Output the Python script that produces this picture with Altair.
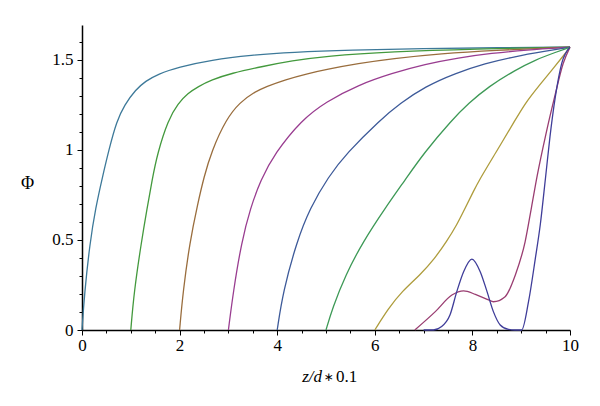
import altair as alt
import pandas as pd

# ---- data ----
c1_x = [0, 0.05, 0.16, 0.28, 0.42, 0.55, 0.71, 0.87, 1.1, 1.3, 1.56, 1.97, 2.65, 3.47, 4.3, 5.5, 7.0, 8.5, 10]
c1_y = [0, 0.2, 0.48, 0.68, 0.85, 1.0, 1.16, 1.25, 1.335, 1.382, 1.422, 1.46, 1.5, 1.527, 1.543, 1.555, 1.563, 1.568, 1.5708]

c2_x = [1, 1.067, 1.218, 1.334, 1.436, 1.546, 1.764, 1.97, 2.17, 2.38, 2.65, 3.06, 3.68, 4.3, 5.0, 6.35, 8.06, 10]
c2_y = [0, 0.213, 0.49, 0.676, 0.833, 0.981, 1.167, 1.259, 1.315, 1.352, 1.389, 1.426, 1.463, 1.495, 1.522, 1.546, 1.561, 1.5708]

c3_x = [2, 2.07, 2.21, 2.37, 2.50, 2.65, 2.96, 3.24, 3.51, 3.78, 4.16, 4.64, 5.0, 5.66, 6.35, 7.37, 8.4, 10]
c3_y = [0, 0.213, 0.49, 0.70, 0.85, 0.99, 1.175, 1.265, 1.318, 1.352, 1.39, 1.425, 1.447, 1.48, 1.507, 1.535, 1.553, 1.5708]

c4_x = [3, 3.10, 3.27, 3.45, 3.66, 3.95, 4.5, 5.0, 5.66, 6.35, 7.03, 7.71, 8.4, 9.08, 10]
c4_y = [0, 0.213, 0.49, 0.676, 0.833, 0.981, 1.167, 1.268, 1.361, 1.426, 1.476, 1.512, 1.537, 1.555, 1.5708]

c5_x = [4, 4.12, 4.40, 4.67, 5.05, 5.42, 6.11, 6.52, 7.03, 7.65, 8.26, 8.87, 9.49, 10]
c5_y = [0, 0.213, 0.49, 0.676, 0.852, 0.981, 1.167, 1.259, 1.352, 1.426, 1.481, 1.519, 1.548, 1.5708]

c6_x = [5, 5.13, 5.40, 5.76, 6.21, 6.62, 7.0, 7.58, 7.92, 8.33, 8.88, 9.29, 9.70, 10]
c6_y = [0, 0.12, 0.306, 0.491, 0.676, 0.833, 0.981, 1.167, 1.259, 1.352, 1.444, 1.5, 1.542, 1.5708]

c7_x = [6, 6.28, 6.55, 6.93, 7.23, 7.47, 7.68, 7.85, 8.02, 8.14, 8.47, 8.88, 9.08, 9.35, 9.63, 9.87, 10]
c7_y = [0, 0.12, 0.213, 0.306, 0.398, 0.491, 0.583, 0.676, 0.769, 0.833, 0.981, 1.167, 1.259, 1.352, 1.444, 1.525, 1.5708]

c8_x = [6.82, 7.24, 7.58, 7.82, 8.06, 8.33, 8.43, 8.67, 8.88, 9.08, 9.21, 9.33, 9.50, 9.69, 9.86, 10]
c8_y = [0, 0.102, 0.194, 0.217, 0.198, 0.167, 0.157, 0.185, 0.306, 0.49, 0.68, 0.86, 1.08, 1.30, 1.48, 1.5708]

c9_x = [7.0, 7.2, 7.37, 7.54, 7.68, 7.82, 7.99, 8.16, 8.30, 8.43, 8.57, 8.74, 8.87, 9.01, 9.15, 9.29, 9.39, 9.50, 9.59, 9.70, 9.83, 10]
c9_y = [0, 0.0, 0.019, 0.083, 0.213, 0.324, 0.394, 0.324, 0.213, 0.102, 0.028, 0.003, 0.0, 0.0, 0.157, 0.398, 0.583, 0.85, 1.074, 1.296, 1.481, 1.5708]

curves = [(c1_x, c1_y), (c2_x, c2_y), (c3_x, c3_y), (c4_x, c4_y), (c5_x, c5_y),
          (c6_x, c6_y), (c7_x, c7_y), (c8_x, c8_y), (c9_x, c9_y)]
curve_names = ["c1", "c2", "c3", "c4", "c5", "c6", "c7", "c8", "c9"]
curve_colors = ["#3D7999", "#43993D", "#996D3D", "#993D90", "#3D5A99",
                "#3D9956", "#AE9C3C", "#993D71", "#3F3D99"]
bumpy = ["c8", "c9"]

x_ticks = [round(0.5 * i, 1) for i in range(21)]
y_ticks = [round(0.1 * i, 1) for i in range(17)]

rows = []
for name, (xs, ys) in zip(curve_names, curves):
    for xv, yv in zip(xs, ys):
        rows.append({"curve": name, "x": xv, "y": yv})
df = pd.DataFrame(rows)

FONT = "Liberation Serif"

x_enc = alt.X("x:Q", scale=alt.Scale(domain=[0, 10], nice=False, zero=False),
              axis=alt.Axis(values=x_ticks, title=None, grid=False,
                            labelFont=FONT, labelFontSize=17, labelColor="black",
                            labelExpr="datum.value % 2 === 0 ? format(datum.value, '~g') : ''",
                            tickSize={"condition": {"test": "datum.value % 2 === 0", "value": 5}, "value": 3},
                            labelPadding=2, labelFlush=False))
y_enc = alt.Y("y:Q", scale=alt.Scale(domain=[0, 1.694], nice=False, zero=False),
              axis=alt.Axis(values=y_ticks, title="Φ", grid=False,
                            labelFont=FONT, labelFontSize=17, labelColor="black",
                            labelExpr="datum.value % 0.5 === 0 ? format(datum.value, '~g') : ''",
                            tickSize={"condition": {"test": "datum.value % 0.5 === 0", "value": 5}, "value": 3},
                            labelPadding=4, labelFlush=False,
                            titleAngle=0, titleX=-55, titleY=158, titleAlign="center",
                            titleBaseline="middle", titleFontSize=18, titleFont=FONT,
                            titleFontWeight="normal", titleColor="black"))
c_enc = alt.Color("curve:N", scale=alt.Scale(domain=curve_names, range=curve_colors), legend=None)

base = alt.Chart(df)
smooth = base.transform_filter(
    alt.FieldOneOfPredicate(field="curve", oneOf=[n for n in curve_names if n not in bumpy])
).mark_line(strokeWidth=1.3, interpolate="basis").encode(x=x_enc, y=y_enc, color=c_enc)
bumps = base.transform_filter(
    alt.FieldOneOfPredicate(field="curve", oneOf=bumpy)
).mark_line(strokeWidth=1.3, interpolate="monotone").encode(x=x_enc, y=y_enc, color=c_enc)

t1 = alt.Chart(pd.DataFrame({"t": ["z/d"]})).mark_text(
    font=FONT, fontSize=17, fontStyle="italic", align="right", baseline="alphabetic", color="black"
).encode(text="t:N", x=alt.value(240), y=alt.value(357))
t2 = alt.Chart(pd.DataFrame({"t": ["∗"]})).mark_text(
    font="DejaVu Sans", fontSize=12, align="center", baseline="alphabetic", color="black"
).encode(text="t:N", x=alt.value(246.5), y=alt.value(356))
t3 = alt.Chart(pd.DataFrame({"t": ["0.1"]})).mark_text(
    font=FONT, fontSize=17, align="left", baseline="alphabetic", color="black"
).encode(text="t:N", x=alt.value(254), y=alt.value(357))

chart = alt.layer(smooth, bumps, t1, t2, t3).properties(
    width=488, height=305,
    autosize=alt.AutoSizeParams(type="none"),
    padding={"left": 74, "top": 17, "right": 22, "bottom": 60},
).configure_view(stroke=None).configure_axis(
    domainColor="black", domainWidth=1.5, tickColor="black", tickWidth=1,
)

chart.save("out.html", embed_options={"renderer": "svg", "actions": False})
